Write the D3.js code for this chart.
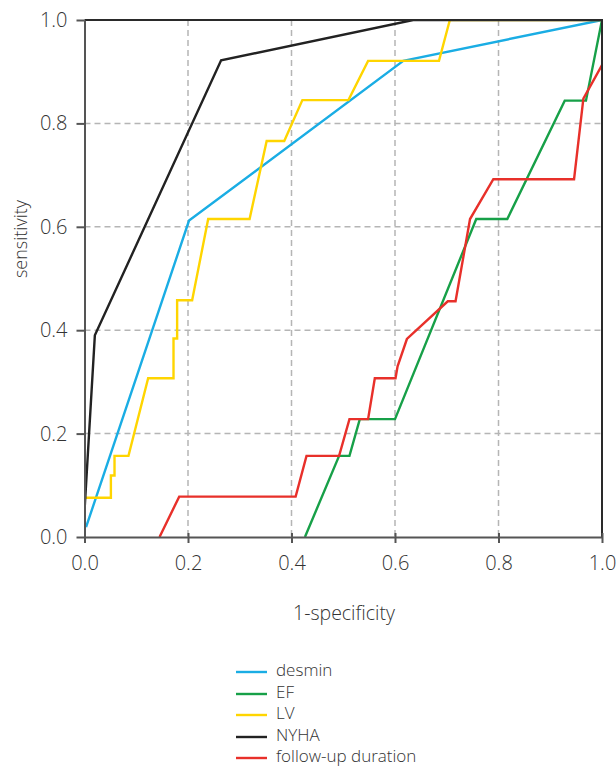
<!DOCTYPE html>
<html><head><meta charset="utf-8">
<script src="https://cdn.jsdelivr.net/npm/d3@7"></script>
<style>
html,body{margin:0;padding:0;background:#fff;}
text{font-family:"Open Sans",sans-serif;font-weight:300;fill:#333;}
</style></head>
<body>
<svg id="c" width="616" height="767"></svg>
<script>
const seriesNames = ["desmin","EF","LV","NYHA","follow-up duration"];
const seriesColors = ["#1aade4","#17a048","#ffd500","#222222","#e8302a"];
const desminX = [0.003, 0.202, 0.616, 1.0];
const desminY = [0.019, 0.612, 0.921, 1.0];
const efX = [0.426, 0.492, 0.512, 0.532, 0.600, 0.757, 0.817, 0.928, 0.969, 1.0];
const efY = [0.0, 0.157, 0.157, 0.228, 0.228, 0.615, 0.615, 0.844, 0.844, 1.0];
const lvX = [0, 0.051, 0.051, 0.058, 0.058, 0.085, 0.123, 0.172, 0.172, 0.179, 0.179, 0.208, 0.239, 0.319, 0.352, 0.386, 0.421, 0.510, 0.548, 0.685, 0.706, 1.0];
const lvY = [0.076, 0.076, 0.119, 0.119, 0.157, 0.157, 0.307, 0.307, 0.384, 0.384, 0.458, 0.458, 0.615, 0.615, 0.766, 0.766, 0.845, 0.845, 0.921, 0.921, 1.0, 1.0];
const nyhaX = [0, 0.02, 0.264, 0.635, 1.0];
const nyhaY = [0.05, 0.39, 0.922, 1.0, 1.0];
const fuX = [0.145, 0.183, 0.408, 0.429, 0.492, 0.512, 0.548, 0.561, 0.601, 0.605, 0.623, 0.702, 0.717, 0.745, 0.790, 0.946, 0.964, 1.0];
const fuY = [0.0, 0.078, 0.078, 0.157, 0.157, 0.228, 0.228, 0.307, 0.307, 0.33, 0.383, 0.456, 0.456, 0.615, 0.692, 0.692, 0.848, 0.913];
const tickValues = [0, 0.2, 0.4, 0.6, 0.8, 1.0];
const tickLabels = ["0.0","0.2","0.4","0.6","0.8","1.0"];
const xTitle = "1-specificity";
const yTitle = "sensitivity";

const seriesX = [desminX, efX, lvX, nyhaX, fuX];
const seriesY = [desminY, efY, lvY, nyhaY, fuY];

const svg = d3.select("#c");
const L = 84.5, R = 602, T = 20, B = 537;
const x = d3.scaleLinear().domain([0,1]).range([L,R]);
const y = d3.scaleLinear().domain([0,1]).range([B,T]);

// grid
const grid = svg.append("g");
tickValues.slice(1,5).forEach(v=>{
  grid.append("line").attr("x1",x(v)).attr("x2",x(v)).attr("y1",T).attr("y2",B)
    .attr("stroke","#b5b5b5").attr("stroke-width",1.5).attr("stroke-dasharray","6,4");
  grid.append("line").attr("x1",L).attr("x2",R).attr("y1",y(v)).attr("y2",y(v))
    .attr("stroke","#b5b5b5").attr("stroke-width",1.5).attr("stroke-dasharray","6,4");
});

svg.append("defs").append("clipPath").attr("id","clip")
  .append("rect").attr("x",L).attr("y",T-1).attr("width",R-L+1).attr("height",B-T+1);

const line = d3.line().x(d=>x(d[0])).y(d=>y(d[1]));
const lines = svg.append("g").attr("clip-path","url(#clip)");
seriesNames.forEach((n,i)=>{
  const pts = seriesX[i].map((v,j)=>[v, seriesY[i][j]]);
  lines.append("path").datum(pts).attr("d",line).attr("fill","none")
    .attr("stroke",seriesColors[i]).attr("stroke-width",2.4).attr("stroke-linejoin","miter");
});

// frame top/right
svg.append("line").attr("x1",L).attr("x2",R+1).attr("y1",T).attr("y2",T).attr("stroke","#2a2a2a").attr("stroke-width",2);
svg.append("line").attr("x1",R).attr("x2",R).attr("y1",T).attr("y2",B).attr("stroke","#2a2a2a").attr("stroke-width",2);

// axes
const xAxis = d3.axisBottom(x).tickValues(tickValues).tickFormat((d,i)=>tickLabels[i]).tickSizeInner(6).tickSizeOuter(0).tickPadding(13);
const yAxis = d3.axisLeft(y).tickValues(tickValues).tickFormat((d,i)=>tickLabels[i]).tickSizeInner(8).tickSizeOuter(0).tickPadding(9);
const gx = svg.append("g").attr("transform",`translate(0,${B})`).call(xAxis);
const gy = svg.append("g").attr("transform",`translate(${L},0)`).call(yAxis);
[gx,gy].forEach(g=>{
  g.select(".domain").attr("stroke","#555").attr("stroke-width",2);
  g.selectAll(".tick line").attr("stroke","#555").attr("stroke-width",2);
  g.selectAll(".tick text").attr("font-family","'Open Sans',sans-serif").attr("font-size",20).attr("font-weight",300).attr("fill","#333");
});
gx.selectAll(".tick line").attr("y1",-4);

svg.append("text").attr("x",344).attr("y",612).attr("text-anchor","middle").attr("dominant-baseline","central")
  .attr("font-size",19.5).text(xTitle);
svg.append("text").attr("transform","translate(20,239) rotate(-90)").attr("text-anchor","middle").attr("dominant-baseline","central")
  .attr("font-size",18).text(yTitle);

// legend
const lg = svg.append("g");
const rowY = [669, 691, 712, 734, 755];
seriesNames.forEach((n,i)=>{
  lg.append("line").attr("x1",236).attr("x2",267).attr("y1",rowY[i]+3).attr("y2",rowY[i]+3)
    .attr("stroke",seriesColors[i]).attr("stroke-width",2.4);
  lg.append("text").attr("x",276).attr("y",rowY[i]).attr("dominant-baseline","central")
    .attr("font-size",17).text(n);
});
</script>
</body></html>
